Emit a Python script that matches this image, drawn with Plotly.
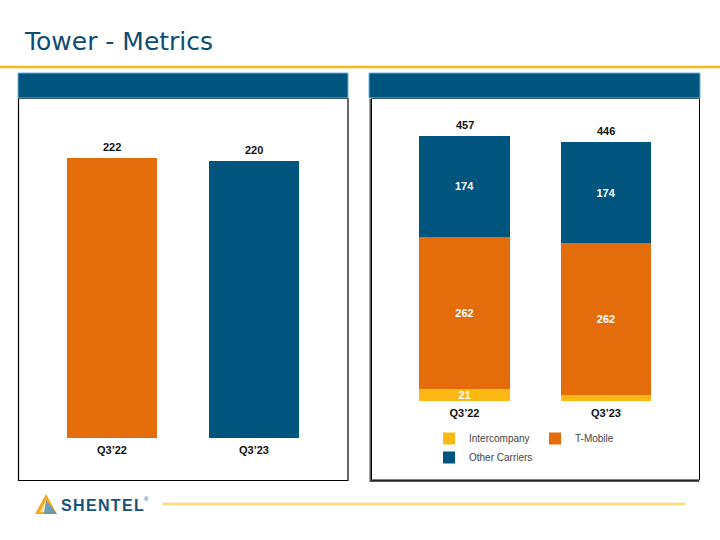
import plotly.graph_objects as go

# ---------------- data ----------------
categories = ["Q3’22", "Q3’23"]
left_values = [222, 220]
intercompany = [21, 10]
tmobile = [262, 262]
other_carriers = [174, 174]
intercompany_labels = ["21", ""]
totals = [a + b + c for a, b, c in zip(intercompany, tmobile, other_carriers)]

# ---------------- style ----------------
W, H = 720, 540
NAVY = "#00557F"
ORANGE = "#E46C0A"
YELLOW = "#FDB913"
TITLE_C = "#0E4C72"
LABEL_FONT = "Liberation Sans"


def fx(px):
    return px / W


def fy(py):
    return 1 - py / H


# left chart pixel geometry
L_base, L_top = 438, 118
L_scale = 280 / 222.0
# right chart pixel geometry
R_base, R_top = 401, 111
R_scale = 265 / 457.0

fig = go.Figure()

# left chart
fig.add_trace(go.Bar(
    x=categories, y=left_values, marker=dict(color=[ORANGE, NAVY], line=dict(width=0)),
    width=0.64, xaxis="x", yaxis="y", showlegend=False, hoverinfo="skip",
))

# right chart (stacked)
inside_font = dict(color="white", size=11, family=LABEL_FONT, weight="bold")
fig.add_trace(go.Bar(
    x=categories, y=intercompany, name="Intercompany", marker=dict(color=YELLOW, line=dict(width=0)),
    width=0.643, xaxis="x2", yaxis="y2", legendgroup="a",
    text=intercompany_labels, textposition="inside", insidetextanchor="middle",
    constraintext="none", texttemplate="%{text}", insidetextfont=inside_font,
))
fig.add_trace(go.Bar(
    x=categories, y=tmobile, name="T-Mobile", marker=dict(color=ORANGE, line=dict(width=0)),
    width=0.643, xaxis="x2", yaxis="y2", legendgroup="b",
    text=tmobile, textposition="inside", insidetextanchor="middle", constraintext="none",
    insidetextfont=inside_font,
))
fig.add_trace(go.Bar(
    x=categories, y=other_carriers, name="Other Carriers", marker=dict(color=NAVY, line=dict(width=0)),
    width=0.643, xaxis="x2", yaxis="y2", legendgroup="a",
    text=other_carriers, textposition="inside", insidetextanchor="middle", constraintext="none",
    insidetextfont=inside_font,
))

annotations = []
for c, v in zip(categories, left_values):
    annotations.append(dict(x=c, y=v, xref="x", yref="y", text=f"<b>{v}</b>", showarrow=False,
                            yanchor="bottom", yshift=3,
                            font=dict(family=LABEL_FONT, size=11, color="#111111")))
for c, v in zip(categories, totals):
    annotations.append(dict(x=c, y=v, xref="x2", yref="y2", text=f"<b>{v}</b>", showarrow=False,
                            yanchor="bottom", yshift=3,
                            font=dict(family=LABEL_FONT, size=11, color="#111111")))

# title
annotations.append(dict(x=fx(22), y=fy(42), xref="paper", yref="paper", xanchor="left", yanchor="middle",
                        text="Tower - Metrics", showarrow=False,
                        font=dict(family="DejaVu Sans", size=25, color=TITLE_C)))
# logo text
annotations.append(dict(x=fx(59), y=fy(505), xref="paper", yref="paper", xanchor="left", yanchor="middle",
                        text="<b>S\u200aH\u200aE\u200aN\u200aT\u200aE\u200aL</b>", showarrow=False,
                        font=dict(family="Liberation Sans", size=16, color="#17527A")))
annotations.append(dict(x=fx(142), y=fy(499), xref="paper", yref="paper", xanchor="left", yanchor="middle",
                        text="®", showarrow=False,
                        font=dict(family="Liberation Sans", size=6, color="#17527A")))

shapes = [
    # title underline
    dict(type="line", xref="paper", yref="paper", x0=0, x1=1, y0=fy(67), y1=fy(67),
         line=dict(color=YELLOW, width=2.5)),
    # left panel
    dict(type="rect", xref="paper", yref="paper", x0=fx(18), x1=fx(348), y0=fy(98), y1=fy(73),
         fillcolor=NAVY, line=dict(color="#6FB3DB", width=1)),
    dict(type="rect", xref="paper", yref="paper", x0=fx(18.5), x1=fx(348), y0=fy(480.5), y1=fy(98.5),
         fillcolor="white", line=dict(color="black", width=1.2), layer="below"),
    # right panel shadow + box
    dict(type="rect", xref="paper", yref="paper", x0=fx(369.5), x1=fx(699), y0=fy(482), y1=fy(99),
         fillcolor="#555555", line=dict(width=0), layer="below"),
    dict(type="rect", xref="paper", yref="paper", x0=fx(371.5), x1=fx(699.5), y0=fy(480), y1=fy(98.5),
         fillcolor="white", line=dict(color="black", width=1), layer="below"),
    dict(type="rect", xref="paper", yref="paper", x0=fx(369), x1=fx(700), y0=fy(98), y1=fy(73),
         fillcolor=NAVY, line=dict(color="#6FB3DB", width=1)),
    # footer line
    dict(type="line", xref="paper", yref="paper", x0=fx(163), x1=fx(685), y0=fy(504), y1=fy(504),
         line=dict(color="#FFD877", width=2.5)),
    # logo triangle
    dict(type="path", xref="paper", yref="paper",
         path=f"M {fx(35)},{fy(514)} L {fx(46)},{fy(494)} L {fx(57)},{fy(514)} Z",
         fillcolor="#F6A81E", line=dict(width=0)),
    dict(type="path", xref="paper", yref="paper",
         path=f"M {fx(40)},{fy(512)} L {fx(46)},{fy(500)} L {fx(53)},{fy(512)} Z",
         fillcolor="#FCE7B0", line=dict(width=0)),
    dict(type="path", xref="paper", yref="paper",
         path=f"M {fx(46)},{fy(500)} L {fx(57)},{fy(514)} L {fx(44)},{fy(514)} Z",
         fillcolor="#4F93C2", line=dict(width=0), opacity=0.85),
]

tickfont = dict(family=LABEL_FONT, size=11, color="#111111", weight="bold")

fig.update_layout(
    width=W, height=H, margin=dict(l=0, r=0, t=0, b=0),
    paper_bgcolor="white", plot_bgcolor="rgba(0,0,0,0)",
    barmode="stack",
    showlegend=True,
    legend=dict(orientation="h", x=fx(429), y=fy(424), xanchor="left", yanchor="top",
                traceorder="grouped", tracegroupgap=0, entrywidth=61,
                font=dict(family=LABEL_FONT, size=10, color="#444444"),
                bgcolor="rgba(0,0,0,0)", itemclick=False),
    xaxis=dict(domain=[fx(41), fx(325)], range=[-0.5, 1.5], type="category",
               showgrid=False, zeroline=False, showline=False, ticks="",
               tickfont=tickfont, anchor="y", ticklabelstandoff=4),
    yaxis=dict(domain=[fy(L_base), fy(L_top)], range=[0, (L_base - L_top) / L_scale],
               showgrid=False, zeroline=False, showline=False, showticklabels=False, anchor="x"),
    xaxis2=dict(domain=[fx(393.75), fx(676.75)], range=[-0.5, 1.5], type="category",
                showgrid=False, zeroline=False, showline=False, ticks="",
                tickfont=tickfont, anchor="y2", ticklabelstandoff=4),
    yaxis2=dict(domain=[fy(R_base), fy(R_top)], range=[0, (R_base - R_top) / R_scale],
                showgrid=False, zeroline=False, showline=False, showticklabels=False, anchor="x2"),
    annotations=annotations,
    shapes=shapes,
)

fig.write_html("out.html", config={"displayModeBar": False},
               post_script="document.body.style.margin='0px';")
